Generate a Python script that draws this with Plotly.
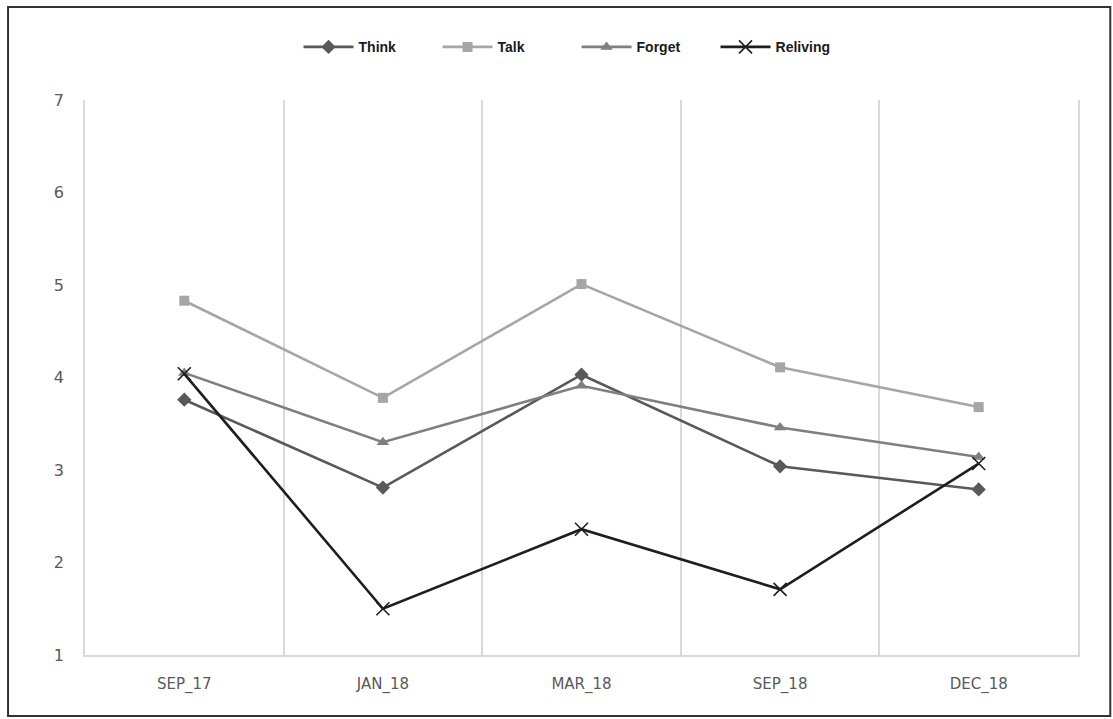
import plotly.graph_objects as go

periods = ["SEP_17", "JAN_18", "MAR_18", "SEP_18", "DEC_18"]
think = [3.76, 2.81, 4.03, 3.04, 2.79]
talk = [4.83, 3.78, 5.01, 4.11, 3.68]
forget = [4.05, 3.30, 3.91, 3.46, 3.14]
reliving = [4.04, 1.50, 2.36, 1.71, 3.07]

series = [
    ("Think", think, "#595959", dict(symbol="diamond", size=11)),
    ("Talk", talk, "#a6a6a6", dict(symbol="square", size=10)),
    ("Forget", forget, "#7f7f7f", dict(symbol="triangle-up", size=11)),
    ("Reliving", reliving, "#1e1e1e",
     dict(symbol="x-thin", size=13, line=dict(width=1.6, color="#1e1e1e"))),
]

fig = go.Figure()
for name, vals, color, mk in series:
    fig.add_trace(go.Scatter(
        x=periods, y=vals, name=name, mode="lines+markers",
        line=dict(color=color, width=2.6),
        marker=dict(color=color, **mk),
    ))

fig.update_layout(
    width=1113, height=719,
    margin=dict(l=85, r=35, t=100, b=64),
    paper_bgcolor="white", plot_bgcolor="white",
    font=dict(family="Liberation Sans, Arial, sans-serif", color="#595959"),
    legend=dict(
        orientation="h", x=0.495, xanchor="center", y=1.095, yanchor="middle",
        font=dict(family="Liberation Sans, Arial, sans-serif", size=14,
                  color="#1a1a1a", weight="bold"),
        itemwidth=50, entrywidth=74, tracegroupgap=0,
    ),
    showlegend=True,
)
fig.update_xaxes(
    type="category", range=[-0.5, 4.5], tickson="boundaries",
    showgrid=True, gridcolor="#d9d9d9", gridwidth=1.5,
    showline=True, linecolor="#d9d9d9", linewidth=1.5,
    ticks="", tickfont=dict(family="DejaVu Sans, sans-serif", size=15, color="#595959"),
    ticklabelstandoff=14,
)
fig.update_yaxes(
    range=[1, 7], dtick=1, showgrid=False, zeroline=False,
    showline=True, mirror=True, linecolor="#d9d9d9", linewidth=1.5, ticks="",
    tickfont=dict(family="DejaVu Sans, sans-serif", size=16, color="#595959"),
    ticklabelstandoff=16,
)
# outer frame
fig.add_shape(type="rect", xref="paper", yref="paper",
              x0=-0.0775, x1=1.0325, y0=-0.11, y1=1.1675,
              line=dict(color="#333333", width=2), fillcolor="rgba(0,0,0,0)")

fig.write_html("out.html")
